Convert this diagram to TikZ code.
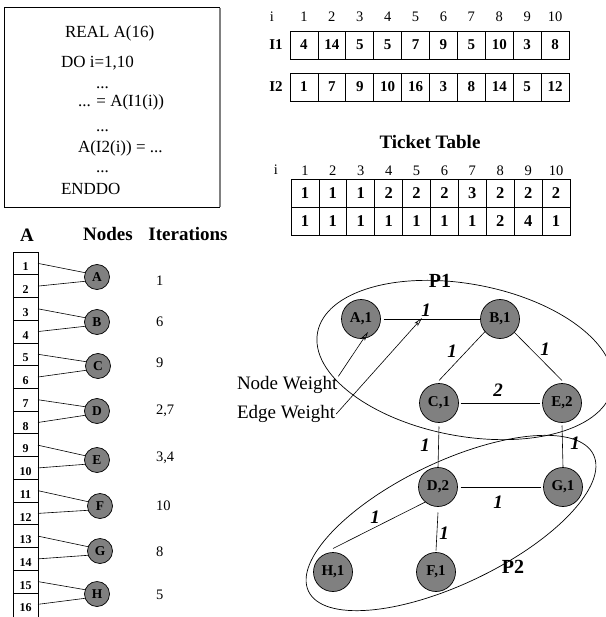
\documentclass[tikz,border=0pt]{standalone}
\usepackage{fontspec}
\setmainfont{Liberation Serif}
\usetikzlibrary{arrows.meta}
\newcommand{\myfs}[1]{\fontsize{#1}{#1}\selectfont}
\begin{document}
\begin{tikzpicture}[x=1pt,y=-1pt,
  every node/.style={inner sep=0pt, outer sep=0pt},
  codetxt/.style={font=\myfs{17}, anchor=base west},
  hdr/.style={font=\myfs{14.5}},
  cellv/.style={draw, line width=0.7pt, minimum width=27.9pt, minimum height=28pt, font=\bfseries\myfs{15}},
  tcell/.style={draw, line width=0.7pt, minimum width=27.9pt, minimum height=28pt, font=\bfseries\myfs{16.5}},
  big/.style={font=\bfseries\myfs{19}},
  rowlbl/.style={font=\bfseries\myfs{15}},
  anum/.style={font=\bfseries\myfs{12}},
  snode/.style={circle, draw, line width=0.7pt, fill=gray, minimum size=25pt, font=\bfseries\myfs{13.5}},
  gnode/.style={circle, draw, line width=0.7pt, fill=gray, minimum size=39pt, font=\bfseries\myfs{15}},
  ewt/.style={font=\bfseries\itshape\myfs{19}},
  iter/.style={font=\myfs{14.5}, anchor=west},
  lbl/.style={font=\myfs{19}, anchor=west},
  gedge/.style={line width=0.6pt},
  warrow/.style={line width=0.6pt, -{Stealth[open,length=9pt,width=4.5pt,inset=2pt]}},
]
\useasboundingbox (0,0) rectangle (605,617);

% ---- code box ----
\node[draw, line width=0.7pt, minimum width=215pt, minimum height=200pt, anchor=north west] (codebox) at (4,7) {};
\draw[gray, line width=2pt] ([xshift=1.3pt,yshift=-1pt]codebox.north east) -- ([xshift=1.3pt]codebox.south east);
\node[codetxt] (c1) at (65,38) {REAL A(16)};
\node[codetxt] (c2) at (61,68) {DO i=1,10};
\node[codetxt] (c3) at (96,89) {...};
\node[codetxt] (c4) at (78,107) {... = A(I1(i))};
\node[codetxt] (c5) at (96,132) {...};
\node[codetxt] (c6) at (78,153) {A(I2(i)) = ...};
\node[codetxt] (c7) at (96,173) {...};
\node[codetxt] (c8) at (61,195) {ENDDO};

% ---- index tables ----
\node[hdr] (ihdr) at (272,17) {i};
\foreach \k in {1,...,10} {\node[hdr] (h\k) at ({290+27.9*(\k-0.5)},17) {\k};}
\node[rowlbl] (I1lbl) at (276,45) {I1};
\node[rowlbl] (I2lbl) at (276,87) {I2};
\foreach \v [count=\k] in {4,14,5,5,7,9,5,10,3,8} {\node[cellv] (ia\k) at ({290+27.9*(\k-0.5)},45) {\v};}
\foreach \v [count=\k] in {1,7,9,10,16,3,8,14,5,12} {\node[cellv] (ib\k) at ({290+27.9*(\k-0.5)},87) {\v};}

% ---- ticket table ----
\node[big] (ttitle) at (430,142) {Ticket Table};
\node[hdr] (thdr) at (276,170) {i};
\foreach \k in {1,...,10} {\node[hdr] (th\k) at ({291+27.9*(\k-0.5)},171) {\k};}
\foreach \v [count=\k] in {1,1,1,2,2,2,3,2,2,2} {\node[tcell] (ta\k) at ({291+27.9*(\k-0.5)},193) {\v};}
\foreach \v [count=\k] in {1,1,1,1,1,1,1,2,4,1} {\node[tcell] (tb\k) at ({291+27.9*(\k-0.5)},221) {\v};}

% ---- array A, nodes, iterations ----
\node[big] (Ahdr) at (27,235) {A};
\node[big] (Nhdr) at (108,234) {Nodes};
\node[big] (Ihdr) at (188,234) {Iterations};
\draw[line width=1pt] (13,252) -- (13,617);
\draw[line width=0.7pt] (38,252) -- (38,617);
\draw[line width=0.7pt] (13,252) -- (38,252);
\foreach \k in {1,...,15} {\draw[line width=0.7pt] (13,{252+22.73*\k}) -- (38,{252+22.73*\k});}
\foreach \k in {1,...,16} {
  \node[anum] (an\k) at (25.5,{252+22.73*(\k-1)+15}) {\k};
  \coordinate (p\k) at (38,{252+22.73*(\k-0.5)});
}
\node[snode] (nA) at (97,277) {A};
\node[snode] (nB) at (97,322) {B};
\node[snode] (nC) at (98,366) {C};
\node[snode] (nD) at (97,411) {D};
\node[snode] (nE) at (97,460) {E};
\node[snode] (nF) at (100,506) {F};
\node[snode] (nG) at (100,551) {G};
\node[snode] (nH) at (97,594) {H};
\foreach \n [count=\j] in {nA,nB,nC,nD,nE,nF,nG,nH} {
  \pgfmathtruncatemacro{\ka}{2*\j-1}
  \pgfmathtruncatemacro{\kb}{2*\j}
  \draw[gedge] (p\ka) -- (\n.160);
  \draw[gedge] (p\kb) -- (\n.200);
}
\node[iter] (it1) at (156,281) {1};
\node[iter] (it2) at (156,322) {6};
\node[iter] (it3) at (156,363) {9};
\node[iter] (it4) at (156,411) {2,7};
\node[iter] (it5) at (156,458) {3,4};
\node[iter] (it6) at (156,506) {10};
\node[iter] (it7) at (156,552) {8};
\node[iter] (it8) at (156,595) {5};

% ---- graph ----
\draw[line width=0.7pt, rotate around={-10.6:(465,360)}] (465,360) ellipse [x radius=150, y radius=76];
\draw[line width=0.7pt, rotate around={25.6:(451,523)}] (451,523) ellipse [x radius=158, y radius=61];
\node[font=\bfseries\myfs{20}] (P1) at (440,281) {P1};
\node[font=\bfseries\myfs{20}] (P2) at (513,567) {P2};

\node[gnode] (A1) at (361,319) {A,1};
\node[gnode] (B1) at (500,319) {B,1};
\node[gnode] (C1) at (439,403) {C,1};
\node[gnode] (E2) at (562,403) {E,2};
\node[gnode] (D2) at (438,487) {D,2};
\node[gnode] (G1) at (563,487) {G,1};
\node[gnode] (H1) at (333,572) {H,1};
\node[gnode] (F1) at (436,572) {F,1};

\draw[gedge] ([xshift=3pt]A1.east) -- (B1.west);
\draw[gedge] (B1.220) -- ([yshift=3pt]C1.north);
\draw[gedge] (B1.317) -- ([yshift=3pt]E2.north);
\draw[gedge] ([xshift=2pt]C1.east) -- ([xshift=-3pt]E2.west);
\draw[gedge] ([yshift=-4pt]C1.south) -- (D2.north);
\draw[gedge] ([yshift=-3pt]E2.south) -- (G1.north);
\draw[gedge] ([xshift=3pt]D2.east) -- ([xshift=-3pt]G1.west);
\draw[gedge] (D2.230) -- ([yshift=4pt]H1.north);
\draw[gedge] ([yshift=-6pt]D2.south) -- ([yshift=2pt]F1.north);

\node[ewt] (wAB) at (426,310) {1};
\node[ewt] (wBC) at (452,351) {1};
\node[ewt] (wBE) at (545,349) {1};
\node[ewt] (wCE) at (498,390) {2};
\node[ewt] (wCD) at (425,445) {1};
\node[ewt] (wEG) at (575,443) {1};
\node[ewt] (wDG) at (498,502) {1};
\node[ewt] (wDH) at (375,517) {1};
\node[ewt] (wDF) at (444,533) {1};

\node[lbl] (nwl) at (237,385) {Node Weight};
\node[lbl] (ewl) at (237,414) {Edge Weight};
\coordinate (nwtip) at (368,332);
\coordinate (ewtip) at (422,318);
\draw[warrow] ([xshift=1pt]nwl.north east) -- (nwtip);
\draw[warrow] ([xshift=1pt]ewl.east) -- (ewtip);
\end{tikzpicture}
\end{document}
